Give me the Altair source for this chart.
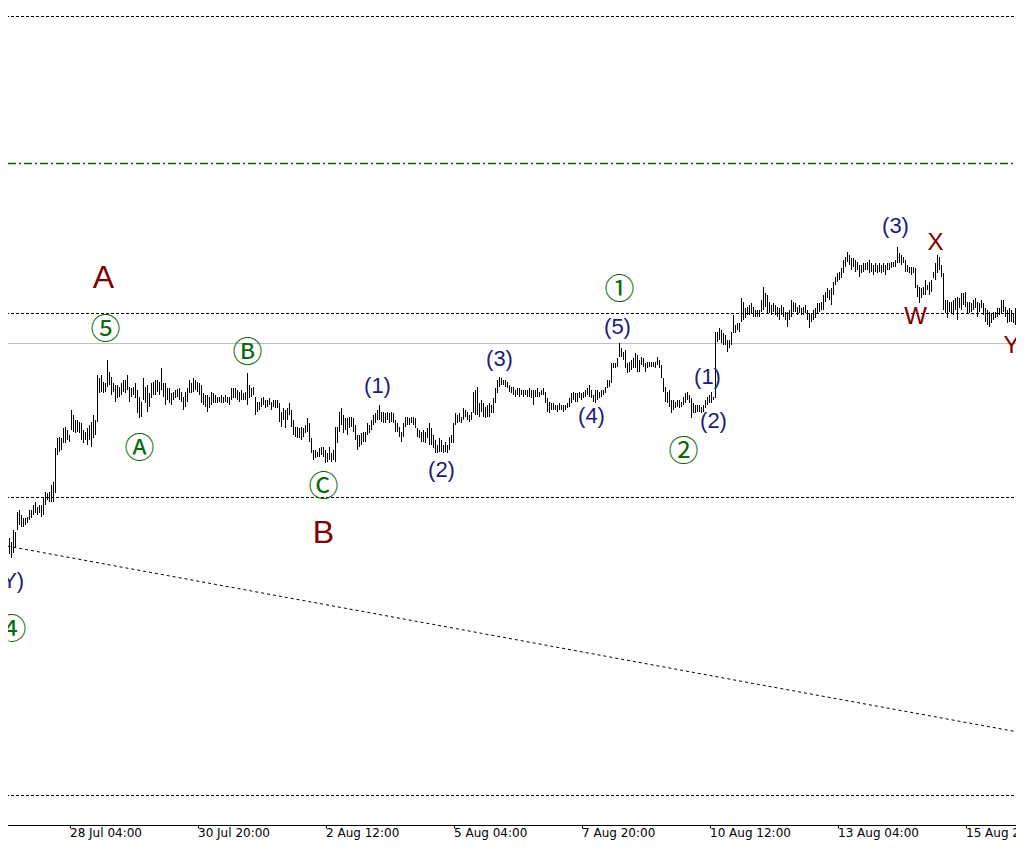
import altair as alt
import pandas as pd

# ---- hourly bars (price units are arbitrary points) ----
BASE = pd.Timestamp("2019-07-26 18:00")

HIGH = [
    462,460,464,458,462,458,470,468,488,490,
    485,482,482,483,490,490,495,498,493,495,
    495,502,508,507,508,515,518,552,562,563,
    562,572,573,570,565,590,585,580,580,578,
    577,570,568,572,575,578,585,580,625,622,
    625,618,617,640,628,623,617,615,615,613,
    617,620,620,625,613,612,613,617,610,603,
    598,622,613,615,607,617,618,620,620,618,
    632,617,617,612,612,607,608,610,611,612,
    608,603,608,612,620,617,622,620,618,617,
    615,607,605,605,603,608,607,605,603,603,
    605,603,605,603,603,612,612,612,610,608,
    610,607,608,627,615,612,613,603,598,598,
    602,603,600,600,602,598,600,600,600,597,
    588,592,590,592,597,590,580,573,573,572,
    573,572,575,582,577,562,550,550,548,552,
    553,553,550,547,553,547,550,573,573,588,
    592,585,582,582,583,583,582,575,565,565,
    567,568,568,577,575,580,585,587,590,595,
    588,588,587,588,587,588,587,580,577,573,
    568,577,583,583,582,583,583,582,572,570,
    568,570,568,572,577,572,565,560,555,562,
    560,555,558,555,563,565,577,587,585,587,
    583,592,590,588,585,588,608,610,613,597,
    600,597,593,595,597,595,602,612,620,623,
    622,620,620,618,615,613,613,610,612,612,
    610,610,610,610,612,610,610,610,612,608,
    610,612,608,602,598,597,597,595,595,597,
    595,595,595,597,602,607,608,607,607,608,
    607,608,610,612,615,610,605,610,610,608,
    610,610,613,620,620,637,637,637,642,657,
    652,648,650,637,638,640,642,647,645,640,
    643,642,637,638,638,638,638,638,643,640,
    635,622,613,608,610,600,600,598,600,600,
    598,603,607,608,605,602,597,595,595,595,
    593,595,600,603,605,608,603,668,668,672,
    670,667,665,660,660,668,685,675,677,677,
    702,698,692,693,695,697,693,690,690,690,
    700,713,707,705,698,695,697,695,693,692,
    695,693,688,688,690,700,698,697,693,695,
    692,693,695,690,687,687,690,692,697,697,
    698,705,708,712,710,712,718,723,727,728,
    732,740,743,748,745,742,742,740,738,735,
    735,737,737,738,740,737,735,737,735,737,
    735,737,735,737,737,738,738,740,753,747,
    745,743,740,735,733,733,733,732,715,713,
    712,713,720,715,718,720,728,737,745,743,
    735,727,700,700,698,698,700,702,703,702,
    707,707,708,698,698,697,700,702,698,697,
    700,697,692,690,688,687,688,688,692,692,
    700,700,693,690,692,690,687,692,690,688,
    688,685,
]

LOW = [
    448,444,450,443,446,442,447,452,470,475,
    473,473,475,477,480,482,485,487,485,487,
    483,485,495,500,498,498,498,507,545,548,
    550,557,557,560,558,570,568,567,568,567,
    560,557,560,555,560,553,562,565,578,607,
    608,607,608,613,615,605,608,598,602,603,
    605,608,607,610,598,603,605,602,587,582,
    583,600,597,588,593,602,605,605,608,605,
    610,603,595,600,597,595,600,602,603,600,
    598,590,593,598,607,607,608,610,608,605,
    597,595,593,588,592,595,597,597,597,598,
    597,597,598,597,595,600,602,602,600,598,
    600,600,600,595,602,603,605,585,588,590,
    593,595,592,593,595,590,593,592,592,578,
    573,580,572,580,585,573,565,563,562,562,
    560,563,567,568,558,547,540,542,543,543,
    545,543,537,538,540,538,540,538,557,568,
    575,567,570,565,572,573,568,560,550,553,
    555,558,558,565,567,570,575,577,580,580,
    578,577,577,580,577,578,577,568,568,563,
    558,563,573,575,575,577,575,572,563,562,
    558,558,557,562,555,555,552,547,547,548,
    548,547,548,547,550,557,557,575,577,578,
    577,580,583,580,578,580,587,585,585,583,
    588,583,582,583,583,587,587,597,607,613,
    615,615,613,612,608,607,605,603,605,603,
    605,603,605,603,603,602,595,603,603,603,
    605,605,597,588,587,590,590,590,588,590,
    590,588,590,592,593,597,600,598,598,602,
    600,602,603,605,603,602,598,597,600,602,
    603,605,607,612,613,617,632,632,633,643,
    643,640,632,627,628,630,632,632,628,628,
    635,633,628,632,633,633,633,632,635,632,
    622,608,598,597,593,587,590,592,593,592,
    593,595,597,600,597,582,587,587,588,588,
    587,588,592,595,597,597,600,602,658,660,
    657,655,655,648,652,655,667,667,670,668,
    678,680,682,685,685,687,683,683,683,683,
    688,690,693,687,687,685,688,685,683,680,
    685,683,680,673,680,683,688,688,685,687,
    685,685,687,680,672,678,680,682,687,688,
    690,690,698,702,700,695,705,715,718,720,
    722,727,733,738,735,730,733,728,730,723,
    727,728,730,730,727,728,725,728,727,728,
    727,728,725,730,730,732,733,733,737,737,
    735,737,728,728,727,725,727,712,703,697,
    702,705,705,710,705,708,722,720,727,730,
    723,690,687,682,688,687,685,690,680,692,
    690,695,693,687,687,688,690,692,683,688,
    692,685,678,675,673,677,680,682,683,685,
    687,688,683,677,678,678,677,675,678,675,
    672,678,
]

# horizontal levels
DOT_LEVELS = [983.5, 686.5, 502.5, 204.5]
GREEN_LEVELS = [836.5]
GREY_LEVELS = [656.5]

# slow moving-average line (bar index, value)
MA_BAR = [0, 125, 250, 380, 511]
MA_VAL = [455, 409, 363, 315, 267]

# Elliott wave labels
LABEL_TEXT = ["A", "B", "W", "X", "Y",
              "⑤", "Ⓐ", "Ⓑ", "Ⓒ", "①", "②", "④",
              "(1)", "(2)", "(3)", "(4)", "(5)", "(1)", "(2)", "(3)", "(Y)"]
LABEL_BAR = [51, 161, 457, 467, 505,
             52, 69, 123, 161, 309, 341, 5,
             188, 220, 249, 295, 308, 353, 356, 447, 4]
LABEL_PRICE = [722, 467, 683, 757, 654,
               670, 551, 647, 513, 710, 548, 370,
               614, 530, 641, 584, 673, 623, 579, 774, 419]
LABEL_STYLE = ["big"] * 2 + ["mid"] * 3 + ["circle"] * 7 + ["paren"] * 9

n = min(len(HIGH), len(LOW))
hours = lambda k: BASE + pd.Timedelta(hours=k)
bars = pd.DataFrame({"t": [hours(i) for i in range(n)], "high": HIGH[:n], "low": LOW[:n]})
ma = pd.DataFrame({"t": [hours(i) for i in MA_BAR], "price": MA_VAL})
labels = pd.DataFrame({"t": [hours(i) for i in LABEL_BAR], "price": LABEL_PRICE,
                       "label": LABEL_TEXT, "style": LABEL_STYLE})


def dt(ts):
    return alt.DateTime(year=ts.year, month=ts.month, date=ts.day, hours=ts.hour, minutes=ts.minute)


x_dom = [dt(BASE - pd.Timedelta(minutes=45)), dt(BASE + pd.Timedelta(hours=511, minutes=15))]
tick_vals = [dt(hours(34 + 64 * k)) for k in range(8)]

xscale = alt.Scale(domain=x_dom, nice=False)
yscale = alt.Scale(domain=[175, 1000], nice=False, zero=False)

x_axis = alt.Axis(values=tick_vals, format="%-d %b %H:%M", formatType="time",
                  labelAlign="left", labelBaseline="alphabetic", labelFont="DejaVu Sans",
                  labelFontSize=12, labelColor="black", tickColor="black", tickSize=3,
                  domainColor="black", grid=False, title=None, labelPadding=8,
                  labelOverlap=False, labelFlush=False)

X = alt.X("t:T", scale=xscale, axis=x_axis)

dots = alt.Chart(pd.DataFrame({"price": DOT_LEVELS})).mark_rule(
    color="black", strokeWidth=1, strokeDash=[3, 2]).encode(y=alt.Y("price:Q", scale=yscale, axis=None))
green = alt.Chart(pd.DataFrame({"price": GREEN_LEVELS})).mark_rule(
    color="#006400", strokeWidth=1.3, strokeDash=[8, 3, 2, 3]).encode(y=alt.Y("price:Q", scale=yscale, axis=None))
grey = alt.Chart(pd.DataFrame({"price": GREY_LEVELS})).mark_rule(
    color="#c0c0c0", strokeWidth=1).encode(y=alt.Y("price:Q", scale=yscale, axis=None))

ma_line = alt.Chart(ma).mark_line(color="black", strokeWidth=1, strokeDash=[3, 3]).encode(
    x=X, y=alt.Y("price:Q", scale=yscale, axis=None))

bar_rules = alt.Chart(bars).mark_rule(color="black", strokeWidth=1).encode(
    x=X, y=alt.Y("high:Q", scale=yscale, axis=None), y2="low:Q")


def text_layer(style, color, size, font):
    return alt.Chart(labels).transform_filter(alt.datum.style == style).mark_text(
        color=color, fontSize=size, font=font, align="center", baseline="middle").encode(
        x=X, y=alt.Y("price:Q", scale=yscale, axis=None), text="label:N")


t_big = text_layer("big", "#800000", 32, "Liberation Sans")
t_mid = text_layer("mid", "#800000", 24, "Liberation Sans")
t_circle = text_layer("circle", "#0a6a0a", 30, "Noto Sans CJK SC")
t_paren = text_layer("paren", "#1c1c78", 22, "Liberation Sans")

chart = alt.layer(dots, green, grey, ma_line, bar_rules, t_big, t_mid, t_circle, t_paren).properties(
    width=1024, height=825,
    padding={"left": -8, "top": -8, "right": -8, "bottom": 15},
    autosize=alt.AutoSizeParams(type="none"),
    background="white",
).configure_view(stroke=None)

chart.save("out.html", embed_options={"renderer": "svg", "actions": False})
